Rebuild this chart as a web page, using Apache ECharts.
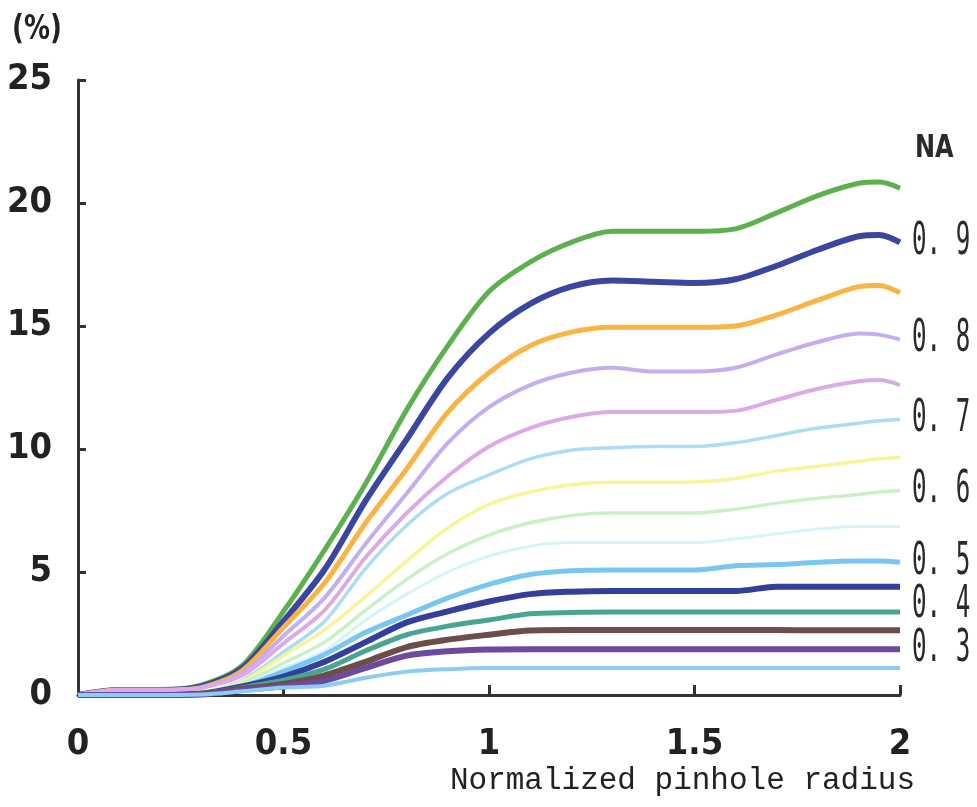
<!DOCTYPE html>
<html>
<head>
<meta charset="utf-8">
<script src="https://cdn.jsdelivr.net/npm/echarts@6/dist/echarts.min.js"></script>
<style>
html,body{margin:0;padding:0;background:#fff;}
#chart{width:977px;height:807px;}
</style>
</head>
<body>
<div id="chart"></div>
<script>
// Normalized pinhole radius (x positions of the sampled points)
const radius = [0, 0.1, 0.2, 0.3, 0.4, 0.5, 0.6, 0.7, 0.8, 0.9, 1.0, 1.1, 1.2, 1.3, 1.4, 1.5, 1.6, 1.7, 1.8, 1.9, 1.95, 2.0];

// Curves, one per NA (values in %)
const na095 = [0, 0.2, 0.2, 0.4, 1.2, 3.4, 5.9, 8.6, 11.6, 14.2, 16.4, 17.6, 18.4, 18.85, 18.85, 18.85, 18.95, 19.6, 20.3, 20.8, 20.85, 20.6];
const na090 = [0, 0.2, 0.2, 0.35, 1.1, 3.0, 5.1, 7.9, 10.4, 12.9, 14.7, 15.9, 16.6, 16.85, 16.8, 16.75, 16.9, 17.45, 18.1, 18.65, 18.7, 18.4];
const na085 = [0, 0.2, 0.2, 0.3, 1.0, 2.75, 4.55, 7.0, 9.2, 11.5, 13.1, 14.2, 14.75, 14.95, 14.95, 14.95, 15.0, 15.45, 16.05, 16.6, 16.65, 16.35];
const na080 = [0, 0.2, 0.2, 0.3, 0.9, 2.4, 3.95, 6.15, 8.2, 10.25, 11.7, 12.6, 13.1, 13.3, 13.15, 13.15, 13.3, 13.85, 14.35, 14.7, 14.65, 14.45];
const na075 = [0, 0.2, 0.2, 0.3, 0.8, 2.1, 3.45, 5.6, 7.4, 8.9, 10.1, 10.85, 11.3, 11.5, 11.5, 11.5, 11.55, 12.0, 12.45, 12.75, 12.8, 12.6];
const na070 = [0, 0, 0, 0.1, 0.6, 1.75, 3.0, 5.15, 6.9, 8.2, 8.95, 9.6, 9.95, 10.05, 10.1, 10.1, 10.25, 10.55, 10.85, 11.05, 11.15, 11.2];
const na065 = [0, 0, 0, 0.1, 0.55, 1.6, 2.65, 4.0, 5.45, 6.8, 7.75, 8.25, 8.55, 8.65, 8.65, 8.66, 8.8, 9.1, 9.3, 9.5, 9.6, 9.65];
const na060 = [0, 0, 0, 0.1, 0.5, 1.3, 2.15, 3.45, 4.7, 5.75, 6.5, 7.0, 7.3, 7.4, 7.4, 7.4, 7.55, 7.8, 8.0, 8.15, 8.25, 8.3];
const na055 = [0, 0, 0, 0.1, 0.4, 1.1, 1.8, 3.05, 4.1, 5.0, 5.65, 6.05, 6.2, 6.2, 6.2, 6.2, 6.35, 6.55, 6.75, 6.85, 6.85, 6.85];
const na050 = [0, 0, 0, 0.05, 0.35, 0.95, 1.65, 2.55, 3.25, 3.95, 4.5, 4.9, 5.05, 5.08, 5.08, 5.08, 5.25, 5.3, 5.4, 5.45, 5.45, 5.4];
const na045 = [0, 0, 0, 0.05, 0.35, 0.75, 1.35, 2.15, 2.95, 3.4, 3.8, 4.1, 4.2, 4.23, 4.23, 4.23, 4.23, 4.4, 4.4, 4.4, 4.4, 4.4];
const na040 = [0, 0, 0, 0.05, 0.3, 0.6, 1.05, 1.8, 2.45, 2.8, 3.05, 3.3, 3.35, 3.37, 3.37, 3.37, 3.37, 3.37, 3.37, 3.37, 3.37, 3.37];
const na035 = [0, 0, 0, 0.05, 0.25, 0.45, 0.8, 1.35, 1.95, 2.25, 2.45, 2.62, 2.64, 2.64, 2.64, 2.64, 2.64, 2.64, 2.63, 2.63, 2.63, 2.63];
const na030 = [0, 0, 0, 0.02, 0.2, 0.35, 0.58, 1.1, 1.6, 1.78, 1.85, 1.86, 1.86, 1.86, 1.86, 1.86, 1.86, 1.86, 1.86, 1.86, 1.86, 1.86];
const na025 = [0, 0, 0, 0.02, 0.15, 0.3, 0.38, 0.7, 0.95, 1.05, 1.1, 1.1, 1.1, 1.1, 1.1, 1.1, 1.1, 1.1, 1.1, 1.1, 1.1, 1.1];

const naNames = ['0.95', '0.9', '0.85', '0.8', '0.75', '0.7', '0.65', '0.6', '0.55', '0.5', '0.45', '0.4', '0.35', '0.3', '0.25'];
const curves = [na095, na090, na085, na080, na075, na070, na065, na060, na055, na050, na045, na040, na035, na030, na025];
// NA values written next to curve ends
const labeledNA = ['0.9', '0.8', '0.7', '0.6', '0.5', '0.4', '0.3'];
const xTicks = [0, 0.5, 1, 1.5, 2];
const yTicks = [0, 5, 10, 15, 20, 25];
const xTitle = 'Normalized pinhole radius';
const yUnit = '(%)';
const legendTitle = 'NA';

// styling (not data)
const colors = ['#5cb04e', '#3b46a0', '#fbb443', '#c4aef0', '#dcaae7', '#acdcf6', '#f7f49a', '#caf0c5', '#d4f5f7', '#78c6f2', '#343f9b', '#49a592', '#6c4d48', '#6b4aa0', '#8ccbf3'];
const widths = [5, 6, 5, 4, 4, 3.5, 3.5, 3.5, 3, 5, 6, 5, 6, 6, 4];
const labelDy = {'0.4': -7};

const chart = echarts.init(document.getElementById('chart'), null, {renderer: 'canvas'});

const tickFont = {fontFamily: "'DejaVu Sans Condensed', 'Liberation Sans Narrow', 'DejaVu Sans', sans-serif", fontWeight: 'bold', fontSize: 36, color: '#222'};

const option = {
  animation: false,
  backgroundColor: '#ffffff',
  grid: {left: 78, right: 77, top: 80, bottom: 112, containLabel: false, outerBoundsMode: 'none'},
  xAxis: {
    type: 'value', min: xTicks[0], max: xTicks[xTicks.length - 1], interval: 0.5,
    axisLine: {show: true, onZero: false, lineStyle: {color: '#333', width: 3}},
    axisTick: {show: true, inside: true, length: 10, lineStyle: {color: '#333', width: 3}},
    axisLabel: Object.assign({margin: 32, formatter: v => String(v)}, tickFont),
    splitLine: {show: false}
  },
  yAxis: {
    type: 'value', min: yTicks[0], max: yTicks[yTicks.length - 1], interval: 5,
    axisLine: {show: true, onZero: false, lineStyle: {color: '#333', width: 3}},
    axisTick: {show: true, inside: true, length: 8, lineStyle: {color: '#333', width: 3}},
    axisLabel: Object.assign({margin: 26}, tickFont),
    splitLine: {show: false}
  },
  series: curves.map((vals, i) => ({
    name: 'NA ' + naNames[i],
    type: 'line',
    data: radius.map((x, j) => [x, vals[j]]),
    showSymbol: false,
    smooth: 0.3,
    clip: false,
    lineStyle: {color: colors[i], width: widths[i], cap: 'butt', join: 'round'},
    itemStyle: {color: colors[i]}
  }))
};
chart.setOption(option);

// text annotations placed through the chart's own scales
const gfx = [];
const last = radius.length - 1;
labeledNA.forEach(na => {
  const idx = naNames.indexOf(na);
  const p = chart.convertToPixel({gridIndex: 0}, [radius[last], curves[idx][last]]);
  gfx.push({
    type: 'text', x: p[0] + 12, y: p[1] + (labelDy[na] || 0), scaleX: 0.55,
    style: {text: na.replace('.', '. '), fontFamily: "'DejaVu Sans Mono', 'Liberation Mono', monospace", fontSize: 44, fill: '#2a2a2a', align: 'left', verticalAlign: 'middle'}
  });
});
const naPos = chart.convertToPixel({gridIndex: 0}, [radius[last], 22.2]);
gfx.push({
  type: 'text', x: naPos[0] + 15, y: naPos[1], scaleX: 0.75,
  style: {text: legendTitle, fontFamily: "'DejaVu Sans', sans-serif", fontWeight: 'bold', fontSize: 32, fill: '#2a2a2a', align: 'left', verticalAlign: 'middle'}
});
const origin = chart.convertToPixel({gridIndex: 0}, [xTicks[xTicks.length - 1], yTicks[0]]);
gfx.push({
  type: 'text', x: origin[0] + 15, y: origin[1] + 86,
  style: {text: xTitle, fontFamily: "'Liberation Mono', 'DejaVu Sans Mono', monospace", fontSize: 31, fill: '#222', align: 'right', verticalAlign: 'middle'}
});
gfx.push({
  type: 'text', x: 12, y: 30, scaleX: 0.85,
  style: {text: yUnit, fontFamily: "'DejaVu Sans Condensed', 'DejaVu Sans', sans-serif", fontWeight: 'bold', fontSize: 34, fill: '#222', align: 'left', verticalAlign: 'middle'}
});
chart.setOption({graphic: gfx});
</script>
</body>
</html>
